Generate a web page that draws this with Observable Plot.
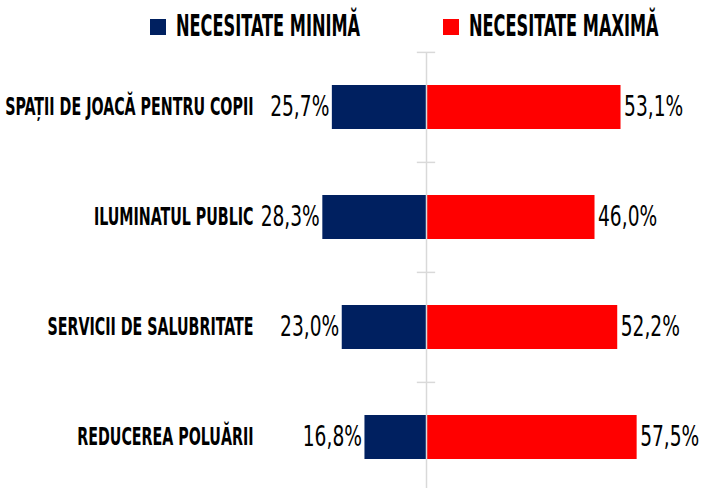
<!DOCTYPE html>
<html><head><meta charset="utf-8">
<script src="https://cdn.jsdelivr.net/npm/d3@7"></script>
<script src="https://cdn.jsdelivr.net/npm/@observablehq/plot@0.6"></script>
<style>
body{margin:0;background:#fff;}
#legend{position:relative;width:704px;height:48px;font-family:"DejaVu Sans Condensed",sans-serif;}
.item{position:absolute;top:0;height:54px;display:flex;align-items:center;}
.sw{width:16px;height:16px;margin-right:10px;flex:none}
.lab{font-size:30px;font-weight:bold;color:#000;transform:scaleX(0.60);transform-origin:left center;white-space:nowrap;line-height:1;position:relative;top:-1px}
</style></head>
<body><div id="legend"></div><div id="chart"></div>
<script>
const categories = ["SPAȚII DE JOACĂ PENTRU COPII", "ILUMINATUL PUBLIC", "SERVICII DE SALUBRITATE", "REDUCEREA POLUĂRII"];
const minima = [25.7, 28.3, 23.0, 16.8];
const maxima = [53.1, 46.0, 52.2, 57.5];
const seriesNames = ["NECESITATE MINIMĂ", "NECESITATE MAXIMĂ"];
const colors = ["#002060", "#FF0000"];
const legendLefts = [150, 443];

const FONT = '"DejaVu Sans Condensed",sans-serif';
const rows = categories.map((c, i) => ({category: c, min: minima[i], max: maxima[i]}));
const fmt = v => v.toFixed(1).replace(".", ",") + "%";

const legend = document.getElementById("legend");
seriesNames.forEach((name, i) => {
  const it = document.createElement("div");
  it.className = "item";
  it.style.left = legendLefts[i] + "px";
  const sw = document.createElement("div");
  sw.className = "sw";
  sw.style.background = colors[i];
  const lab = document.createElement("span");
  lab.className = "lab";
  lab.textContent = name;
  it.append(sw, lab);
  legend.append(it);
});

const step = 440.8 / categories.length;
const chart = Plot.plot({
  width: 704, height: 440,
  marginTop: 4, marginBottom: 0, marginLeft: 261, marginRight: 0,
  x: {domain: [-30, 60], range: [316.1, 645.8], axis: null},
  y: {domain: categories, range: [4, 444.8], paddingInner: 0.6, paddingOuter: 0.3, axis: null},
  style: {fontFamily: FONT, background: "white", color: "#000"},
  marks: [
    Plot.barX(rows, {y: "category", x1: 0, x2: d => -d.min, fill: colors[0]}),
    Plot.barX(rows, {y: "category", x1: 0, x2: "max", fill: colors[1]}),
    Plot.ruleX([0], {stroke: "#d9d9d9", strokeWidth: 1.5}),
    Plot.ruleY(categories, {y: d => d, x1: -2.5, x2: 2.5, dy: -step / 2, stroke: "#d9d9d9", strokeWidth: 1.5}),
    Plot.text(rows, {y: "category", x: d => -d.min, text: d => fmt(d.min), textAnchor: "end", dx: -3, fontSize: 28, fill: "#000"}),
    Plot.text(rows, {y: "category", x: "max", text: d => fmt(d.max), textAnchor: "start", dx: 3, fontSize: 28, fill: "#000"}),
    Plot.axisY({anchor: "left", tickSize: 0, tickPadding: 8, fontSize: 24, fontWeight: "bold", label: null, fill: "#000"})
  ]
});
document.getElementById("chart").append(chart);

function squeeze(sel, s) {
  chart.querySelectorAll(sel).forEach(t => {
    const x = +t.getAttribute("x") || 0, y = +t.getAttribute("y") || 0;
    const tr = t.getAttribute("transform") || "";
    t.setAttribute("transform", `${tr} translate(${x},${y}) scale(${s},1) translate(${-x},${-y})`);
  });
}
squeeze('g[font-size="24"] text', 0.66);
squeeze('g[font-size="28"] text', 0.74);
</script>
</body></html>
